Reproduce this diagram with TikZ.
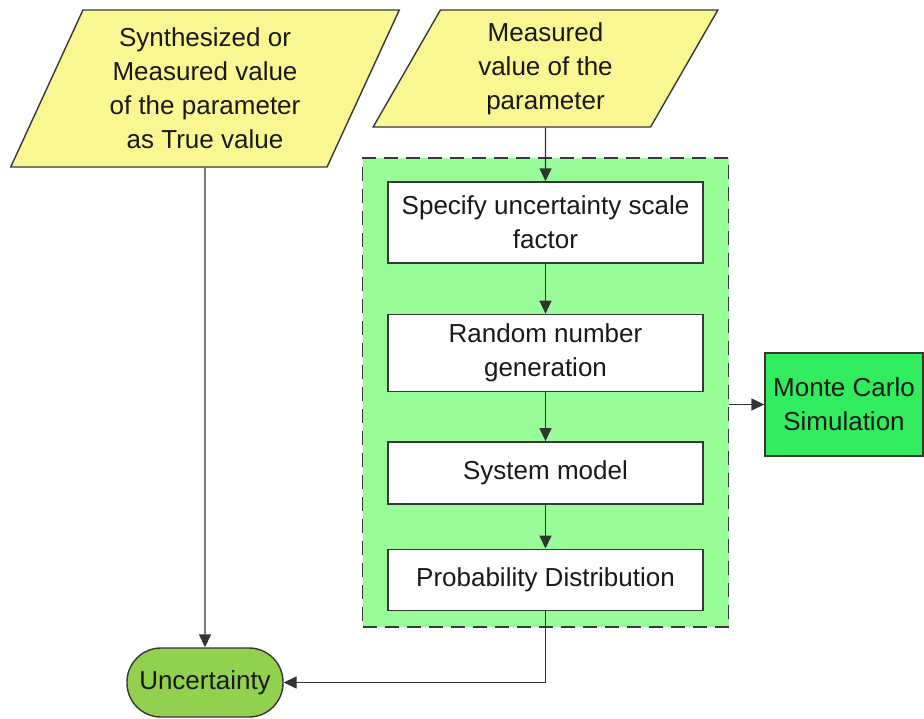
\documentclass[tikz,border=0pt]{standalone}
\usepackage{fontspec}
\setmainfont{Liberation Sans}
\usetikzlibrary{positioning,arrows.meta,shapes.geometric}
\definecolor{paraYellow}{RGB}{250,246,145}
\definecolor{groupGreen}{RGB}{152,252,152}
\definecolor{mcGreen}{RGB}{50,236,96}
\definecolor{uncGreen}{RGB}{146,208,80}
\definecolor{lineGray}{RGB}{55,55,55}
\tikzset{
  base/.style   = {draw=lineGray, line width=1.4pt, align=center, text=black!90,
                   font=\fontsize{26}{34}\selectfont, inner sep=0pt},
  io/.style     = {base, trapezium, trapezium left angle=65, trapezium right angle=115,
                   trapezium stretches=true, fill=paraYellow},
  stepbox/.style= {base, rectangle, minimum width=315pt, fill=white},
  group/.style  = {draw=lineGray, line width=1.4pt, dash pattern=on 14pt off 8pt,
                   fill=groupGreen, minimum width=366pt, minimum height=469pt},
  mc/.style     = {base, rectangle, fill=mcGreen, minimum width=158pt, minimum height=103pt},
  result/.style = {base, rectangle, rounded corners=34pt, fill=uncGreen,
                   minimum width=156pt, minimum height=69pt},
  arrow/.style  = {-{Triangle[length=13pt,width=12pt]}, line width=1.4pt, draw=black!80},
}
\begin{document}
\begin{tikzpicture}[x=1pt, y=-1pt]
  \useasboundingbox (0,0) rectangle (924,718);
  \node[group] (grp) at (545.5,392.5) {};

  \node[io, minimum width=390pt, minimum height=157pt] (truev) at (205,88.5)
    {Synthesized or \\ Measured value \\ of the parameter \\ as True value};
  \node[io, minimum width=345pt, minimum height=117pt] (meas) at (545.5,68.5)
    {Measured \\ value of the \\ parameter};

  \node[stepbox, minimum height=81pt] (scale) at (545.5,222.5) {Specify uncertainty scale \\ factor};
  \node[stepbox, minimum height=77pt, below=50pt of scale] (rng) {Random number \\ generation};
  \node[stepbox, minimum height=62pt, below=49pt of rng] (model) {System model};
  \node[stepbox, minimum height=61pt, below=44pt of model] (prob) {Probability Distribution};

  \node[mc] (mcs) at (844,404.5) {Monte Carlo \\ Simulation};
  \node[result] (unc) at (205,682.5) {Uncertainty};

  \draw[arrow] (meas) -- (scale);
  \draw[arrow] (scale) -- (rng);
  \draw[arrow] (rng) -- (model);
  \draw[arrow] (model) -- (prob);
  \draw[arrow] (grp.east |- mcs.west) -- (mcs.west);
  \draw[arrow] (truev) -- (unc);
  \draw[arrow] (prob.south) |- (unc.east);
\end{tikzpicture}
\end{document}
